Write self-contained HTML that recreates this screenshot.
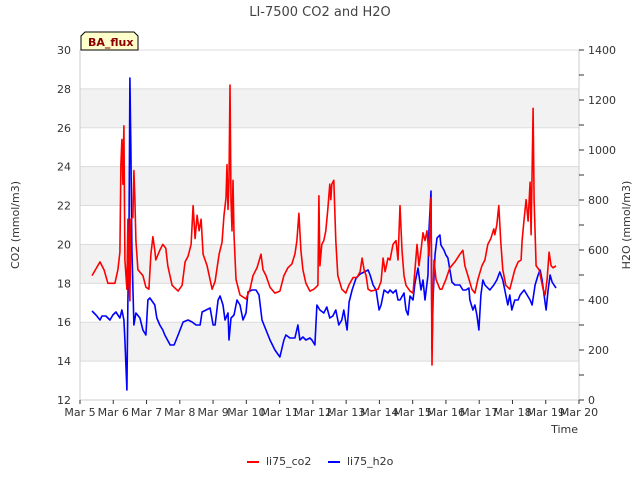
<!DOCTYPE html>
<html><head><meta charset="utf-8"><style>
body{margin:0;background:#fff;}
svg text{font-family:"DejaVu Sans","Liberation Sans",sans-serif;}
</style></head><body>
<svg id="chart" width="640" height="480" xmlns="http://www.w3.org/2000/svg"></svg>
<script>
const xTicks=["Mar 5","Mar 6","Mar 7","Mar 8","Mar 9","Mar 10","Mar 11","Mar 12","Mar 13","Mar 14","Mar 15","Mar 16","Mar 17","Mar 18","Mar 19","Mar 20"];
const co2Ticks=[12,14,16,18,20,22,24,26,28,30];
const h2oTicks=[0,200,400,600,800,1000,1200,1400];
const co2T=[.36,.60,.72,.84,1.05,1.14,1.20,1.23,1.26,1.29,1.32,1.35,1.41,1.44,1.47,1.50,1.53,1.59,1.62,1.65,1.68,1.74,1.89,1.98,2.07,2.13,2.19,2.25,2.28,2.40,2.49,2.58,2.64,2.77,2.95,3.07,3.16,3.25,3.34,3.40,3.46,3.52,3.58,3.64,3.70,3.82,3.97,4.06,4.18,4.27,4.33,4.39,4.42,4.45,4.48,4.51,4.54,4.57,4.60,4.63,4.69,4.81,4.99,5.11,5.20,5.32,5.44,5.50,5.59,5.71,5.86,6.01,6.13,6.25,6.37,6.46,6.52,6.58,6.64,6.70,6.79,6.91,7.03,7.15,7.18,7.21,7.27,7.33,7.39,7.45,7.51,7.54,7.57,7.63,7.69,7.75,7.87,7.99,8.08,8.21,8.33,8.42,8.48,8.54,8.60,8.66,8.75,8.96,9.05,9.11,9.17,9.26,9.32,9.41,9.50,9.56,9.62,9.68,9.74,9.80,9.92,10.01,10.07,10.13,10.19,10.25,10.31,10.37,10.43,10.49,10.55,10.58,10.61,10.64,10.70,10.82,10.88,11.00,11.12,11.27,11.42,11.51,11.57,11.66,11.78,11.87,11.96,12.08,12.17,12.26,12.35,12.44,12.47,12.53,12.59,12.65,12.71,12.80,12.92,12.98,13.07,13.17,13.26,13.29,13.35,13.41,13.47,13.53,13.56,13.62,13.65,13.71,13.80,13.86,13.92,13.98,14.04,14.10,14.16,14.22,14.31];
const co2V=[18.4,19.1,18.7,18.0,18.0,18.7,19.6,24.1,25.4,23.1,26.1,19.2,17.7,21.3,17.9,17.1,21.3,21.4,23.8,22.3,20.2,18.7,18.4,17.8,17.7,19.5,20.4,19.7,19.2,19.7,20.0,19.8,18.9,17.9,17.6,17.9,19.1,19.4,20.0,22.0,20.3,21.5,20.7,21.3,19.5,18.9,17.7,18.1,19.5,20.1,21.5,22.4,24.1,21.8,23.3,28.2,22.3,20.7,23.3,20.5,18.2,17.4,17.2,17.7,18.4,18.8,19.5,18.7,18.4,17.8,17.5,17.6,18.4,18.8,19.0,19.5,20.2,21.6,19.7,18.7,18.0,17.6,17.7,17.9,22.5,18.9,20.0,20.2,20.7,21.8,23.1,22.3,23.1,23.3,20.2,18.4,17.7,17.5,17.9,18.3,18.3,18.6,19.3,18.7,18.4,17.7,17.6,17.7,18.1,19.3,18.6,19.3,19.2,20.0,20.2,19.2,22.0,19.7,18.4,17.9,17.6,17.5,18.7,20.0,18.9,19.7,20.6,20.2,20.7,19.4,22.4,13.8,17.4,19.2,18.2,17.7,17.7,18.2,18.8,19.1,19.5,19.7,18.9,18.4,17.7,17.5,18.2,18.9,19.2,20.0,20.3,20.8,20.5,21.0,22.0,20.1,18.7,17.9,17.7,18.1,18.7,19.1,19.2,20.2,21.3,22.3,21.2,23.2,20.5,27.0,22.3,18.9,18.7,18.2,17.7,17.4,18.2,19.6,18.9,18.8,18.9];
const h2oT=[.36,.48,.60,.66,.78,.90,.99,1.08,1.20,1.26,1.32,1.35,1.41,1.44,1.47,1.50,1.53,1.56,1.62,1.68,1.80,1.89,1.98,2.04,2.10,2.25,2.31,2.40,2.49,2.55,2.71,2.83,2.95,3.10,3.25,3.37,3.49,3.61,3.67,3.79,3.91,4.00,4.06,4.15,4.21,4.30,4.36,4.45,4.48,4.54,4.63,4.72,4.81,4.90,4.99,5.05,5.17,5.29,5.38,5.47,5.59,5.71,5.86,6.01,6.13,6.19,6.31,6.46,6.55,6.61,6.70,6.79,6.91,6.97,7.06,7.12,7.21,7.33,7.42,7.51,7.60,7.69,7.78,7.87,7.93,8.03,8.09,8.18,8.30,8.42,8.54,8.66,8.72,8.81,8.90,8.99,9.05,9.14,9.26,9.32,9.41,9.50,9.56,9.62,9.74,9.80,9.86,9.92,10.01,10.07,10.16,10.25,10.31,10.37,10.46,10.49,10.55,10.58,10.61,10.67,10.73,10.82,10.85,10.94,11.00,11.06,11.12,11.18,11.27,11.42,11.51,11.60,11.69,11.72,11.81,11.87,11.93,11.99,12.05,12.11,12.17,12.32,12.44,12.53,12.62,12.71,12.80,12.86,12.92,12.98,13.07,13.17,13.23,13.35,13.44,13.53,13.59,13.68,13.77,13.83,13.89,13.95,14.01,14.07,14.13,14.19,14.25,14.31];
const h2oV=[356,340,320,336,336,320,340,352,328,360,320,240,40,400,600,1288,1000,600,300,348,328,280,260,400,408,380,328,300,280,260,220,220,260,312,320,312,300,300,352,360,368,300,300,400,416,380,320,348,240,328,340,400,380,320,348,432,440,440,420,320,280,240,200,172,240,260,248,248,300,240,252,240,248,240,220,380,360,348,372,328,336,360,300,320,360,280,392,440,488,504,512,520,500,460,440,360,380,440,428,440,428,440,400,400,428,360,340,416,400,468,528,440,480,400,500,680,836,200,400,580,648,660,620,600,580,568,520,472,460,460,440,440,448,400,360,380,340,280,420,480,460,440,460,480,512,480,420,380,420,360,400,400,420,440,420,400,380,460,500,520,480,420,360,440,500,472,460,448];

const NS="http://www.w3.org/2000/svg";
const svg=document.getElementById('chart');
const L=80,R=579,T=50,B=400;
const xS=t=>L+(R-L)*t/15;
const yC=v=>B-(v-12)/18*(B-T);
const yH=v=>B-v/1400*(B-T);
function mk(tag,attrs,parent){const e=document.createElementNS(NS,tag);for(const k in attrs)e.setAttribute(k,attrs[k]);(parent||svg).appendChild(e);return e;}
function txt(s,attrs){const e=mk('text',attrs);e.textContent=s;return e;}

// bands
for(let i=0;i<co2Ticks.length-1;i++){
  const v=co2Ticks[i];
  if(v%4===2){
    const r=mk('rect',{x:L,y:yC(v+2),width:R-L,height:yC(v)-yC(v+2),fill:'#f2f2f2'});
    
    
  }
}
co2Ticks.forEach(v=>{
  const g=mk('line',{x1:L,x2:R,y1:yC(v),y2:yC(v),stroke:'#dcdcdc','stroke-width':1});
  
  
  const t=txt(String(v),{x:L-9,y:yC(v)+4,'text-anchor':'end','font-size':11,fill:'#333'});
  
  
});
mk('line',{x1:L,x2:L,y1:T,y2:B,stroke:'#ccc'});
mk('line',{x1:L,x2:R,y1:B,y2:B,stroke:'#ccc'});
mk('line',{x1:R,x2:R,y1:T,y2:B,stroke:'#ccc'});
for(let v=0;v<=1400;v+=100){
  mk('line',{x1:R,x2:R+5,y1:yH(v),y2:yH(v),stroke:'#333'});
}
h2oTicks.forEach(v=>{
  const t=txt(String(v),{x:R+9,y:yH(v)+4,'font-size':11,fill:'#333'});
  
  
});
xTicks.forEach((s,i)=>{
  mk('line',{x1:xS(i),x2:xS(i),y1:B,y2:B+4,stroke:'#333'});
  const t=txt(s,{x:xS(i),y:B+16,'text-anchor':'middle','font-size':11,fill:'#333'});
  
  
});

function series(ts,vs,yf,color,name){
  const d=ts.map((t,i)=>(i?'L':'M')+xS(t).toFixed(1)+' '+yf(vs[i]).toFixed(1)).join(' ');
  const p=mk('path',{d:d,fill:'none',stroke:color,'stroke-width':1.6,'stroke-linejoin':'round'});
  
  
}
series(h2oT,h2oV,yH,'#0000ff','h2o-line');
series(co2T,co2V,yC,'#ff0000','co2-line');
</script>
<svg width="640" height="480" style="position:absolute;left:0;top:0" xmlns="http://www.w3.org/2000/svg">
<text x="320" y="16" text-anchor="middle" font-size="13" fill="#444">LI-7500 CO2 and H2O</text>
<text transform="translate(19,225) rotate(-90)" text-anchor="middle" font-size="11" fill="#333">CO2 (mmol/m3)</text>
<text transform="translate(630,225) rotate(-90)" text-anchor="middle" font-size="11" fill="#333">H2O (mmol/m3)</text>
<text x="578" y="433" text-anchor="end" font-size="11" fill="#333">Time</text>
<g>
<path d="M81,50 L81,36 L85,32 L134,32 L138,36 L138,50 Z" fill="#ffffcc" stroke="#000" stroke-width="1"/>
<text x="88" y="46" font-size="11" font-weight="bold" fill="#8b0000">BA_flux</text>
</g>
<g>
<line x1="247" x2="259" y1="462" y2="462" stroke="#ff0000" stroke-width="2"/>
<text x="266" y="465" font-size="11" fill="#333">li75_co2</text>
</g>
<g>
<line x1="328" x2="340" y1="462" y2="462" stroke="#0000ff" stroke-width="2"/>
<text x="347" y="465" font-size="11" fill="#333">li75_h2o</text>
</g>
</svg>
</body></html>
